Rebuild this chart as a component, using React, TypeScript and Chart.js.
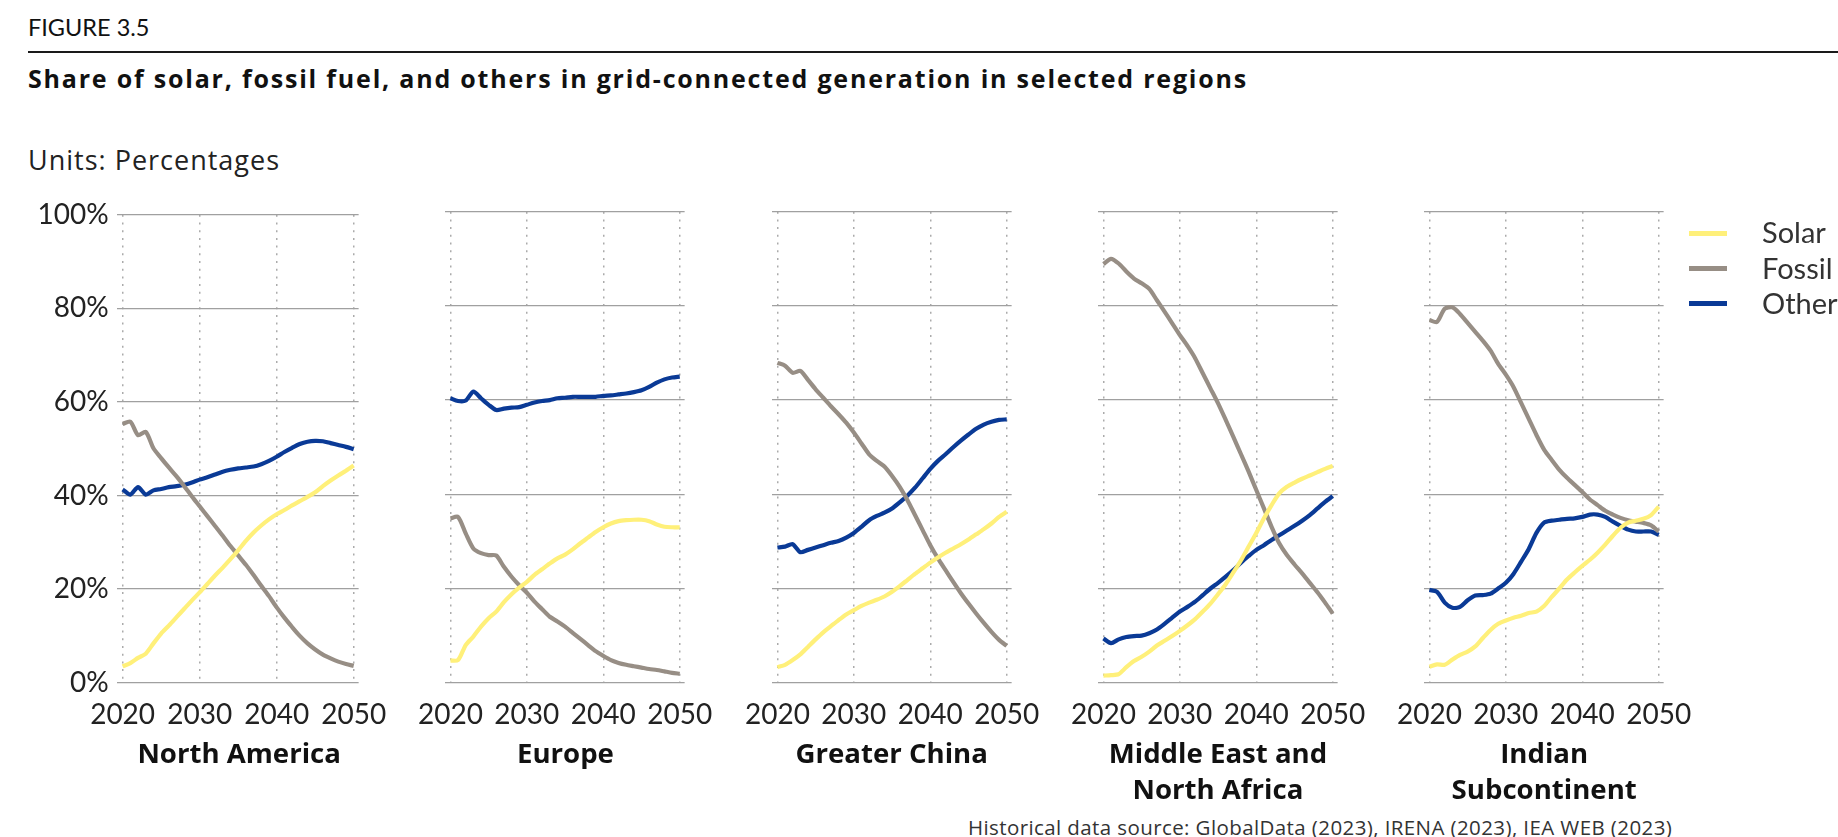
import React, { useEffect, useRef } from "react";
import { Chart, registerables } from "chart.js";

Chart.register(...registerables);

const years = [2020,2021,2022,2023,2024,2025,2026,2027,2028,2029,2030,2031,2032,2033,2034,2035,2036,2037,2038,2039,2040,2041,2042,2043,2044,2045,2046,2047,2048,2049,2050];
const xTicks = [2020, 2030, 2040, 2050];
const yTicks = [0, 20, 40, 60, 80, 100];
const seriesNames = ["Solar", "Fossil fuel", "Others"];
const seriesColors = ["#FFF07A", "#978E85", "#0A3A96"];

const regionNames = ["North America", "Europe", "Greater China", "Middle East and\nNorth Africa", "Indian\nSubcontinent"];

const naSolar = [3.5,4.2,5.3,6.2,8.4,10.5,12.2,14.0,15.8,17.6,19.3,21.1,22.9,24.6,26.4,28.3,30.3,32.1,33.6,34.9,36.0,36.9,37.9,38.8,39.7,40.7,42.0,43.2,44.3,45.3,46.4];
const naFossil = [55.3,55.8,52.9,53.6,50.1,48.0,46.0,44.1,42.0,39.8,37.7,35.6,33.5,31.4,29.2,27.2,25.2,23.0,20.7,18.5,16.1,13.9,11.9,10.0,8.4,7.1,6.0,5.2,4.5,4.0,3.6];
const naOther = [41.3,40.2,41.8,40.2,41.1,41.4,41.8,42.0,42.3,42.8,43.4,43.9,44.5,45.1,45.5,45.8,46.0,46.2,46.7,47.4,48.3,49.3,50.2,51.0,51.5,51.7,51.6,51.2,50.8,50.4,49.9];

const euSolar = [4.7,4.8,8.0,9.8,11.9,13.7,15.1,17.1,18.8,20.2,21.4,22.9,24.1,25.3,26.4,27.2,28.3,29.6,30.8,32.0,33.0,33.8,34.3,34.5,34.6,34.6,34.3,33.6,33.1,33.0,33.0];
const euFossil = [34.9,35.2,31.7,28.5,27.5,27.1,27.0,24.6,22.5,20.7,19.1,17.2,15.6,14.0,13.0,11.9,10.6,9.3,8.0,6.7,5.7,4.8,4.2,3.8,3.5,3.2,2.9,2.7,2.4,2.1,1.9];
const euOther = [60.4,59.8,59.9,61.8,60.4,59.0,57.9,58.2,58.4,58.5,59.0,59.5,59.8,60.0,60.4,60.5,60.7,60.7,60.7,60.7,60.9,61.0,61.2,61.4,61.7,62.1,62.8,63.7,64.4,64.8,65.0];

const cnSolar = [3.3,3.8,4.8,6.0,7.6,9.2,10.7,12.0,13.3,14.5,15.4,16.3,17.0,17.6,18.3,19.3,20.5,21.8,23.1,24.3,25.5,26.6,27.6,28.5,29.4,30.4,31.5,32.6,33.8,35.2,36.3];
const cnFossil = [67.9,67.3,65.8,66.2,64.3,62.3,60.5,58.7,57.0,55.2,53.1,50.8,48.5,47.1,45.9,43.9,41.6,38.8,35.6,32.4,29.2,26.4,23.9,21.4,19.0,16.8,14.7,12.7,10.8,9.1,7.8];
const cnOther = [28.7,28.9,29.4,27.7,28.2,28.7,29.2,29.7,30.1,30.8,31.8,33.1,34.5,35.4,36.1,37.0,38.3,39.7,41.4,43.4,45.4,47.1,48.5,50.0,51.4,52.7,53.9,54.8,55.4,55.8,55.9];

const menaSolar = [1.5,1.6,1.8,3.3,4.6,5.5,6.6,7.9,8.9,9.9,11.0,12.2,13.5,15.1,16.8,18.8,20.9,23.4,26.0,28.9,31.8,34.9,37.7,40.2,41.6,42.5,43.3,44.0,44.7,45.4,46.0];
const menaFossil = [88.9,90.0,89.0,87.3,85.8,84.8,83.6,81.2,78.8,76.3,73.8,71.5,68.9,65.7,62.5,59.3,55.8,52.2,48.5,44.8,40.9,37.0,33.1,29.6,27.1,25.1,23.2,21.2,19.2,17.0,14.7];
const menaOther = [9.4,8.4,9.2,9.7,9.9,10.0,10.5,11.3,12.5,13.8,15.1,16.1,17.2,18.6,20.0,21.2,22.5,23.9,25.5,26.9,28.2,29.2,30.3,31.3,32.3,33.3,34.4,35.6,37.0,38.4,39.6];

const inSolar = [3.4,3.9,3.8,4.9,5.9,6.6,7.7,9.5,11.2,12.5,13.2,13.8,14.2,14.8,15.1,16.3,18.2,20.0,21.9,23.4,24.8,26.1,27.6,29.3,31.2,32.9,34.0,34.4,34.8,35.6,37.4];
const inFossil = [77.0,76.6,79.4,79.7,78.3,76.4,74.5,72.6,70.5,67.7,65.4,62.8,59.4,56.0,52.6,49.5,47.3,45.2,43.5,42.0,40.5,38.9,37.7,36.5,35.7,35.0,34.5,34.2,33.9,33.4,32.1];
const inOther = [19.7,19.3,17.0,15.9,16.1,17.5,18.5,18.6,18.9,20.0,21.2,23.1,25.7,28.4,31.8,34.0,34.4,34.6,34.8,34.9,35.2,35.7,35.7,35.2,34.2,33.3,32.5,32.1,32.1,32.1,31.4];

const regionSeries = [
  [naSolar, naFossil, naOther],
  [euSolar, euFossil, euOther],
  [cnSolar, cnFossil, cnOther],
  [menaSolar, menaFossil, menaOther],
  [inSolar, inFossil, inOther],
];

const FONT = "Lato, 'Noto Sans', sans-serif";
const FONT_WIDE = "'Open Sans', Lato, sans-serif";

// layout constants
const PANEL0_LEFT = 116.7;
const PANEL_STEP = 326.25;
const PLOT_W = 245;
const CANVAS_TOP = 190;
const CANVAS_H = 545;
const PLOT_TOP_PAD = 21.7;
const PLOT_H = 471;
const RIGHT_SPACE = 40;

function Panel({ index }: { index: number }) {
  const ref = useRef<HTMLCanvasElement | null>(null);
  const plotLeft = PANEL0_LEFT + PANEL_STEP * index;
  const canvasLeft = index === 0 ? 0 : Math.floor(plotLeft - 40);
  const yWidth = plotLeft - canvasLeft;
  const canvasW = Math.ceil(yWidth + PLOT_W + RIGHT_SPACE);
  const rightPad = canvasW - yWidth - PLOT_W;
  const xHeight = CANVAS_H - PLOT_TOP_PAD - PLOT_H;

  useEffect(() => {
    const canvas = ref.current;
    if (!canvas) return;
    const series = regionSeries[index];
    const chart = new Chart(canvas, {
      type: "line",
      data: {
        datasets: series.map((vals, k) => ({
          label: seriesNames[k],
          data: years.map((yr, j) => ({ x: yr, y: vals[j] })),
          borderColor: seriesColors[k],
          backgroundColor: seriesColors[k],
          borderWidth: 4.2,
          pointRadius: 0,
          tension: 0.25,
          borderJoinStyle: "round" as const,
          fill: false,
        })),
      },
      options: {
        responsive: false,
        animation: false,
        devicePixelRatio: 1,
        events: [],
        layout: { padding: { top: PLOT_TOP_PAD, right: rightPad, left: 0, bottom: 0 } },
        plugins: { legend: { display: false }, tooltip: { enabled: false } },
        scales: {
          x: {
            type: "linear",
            min: 2020 - 6 / 7.8,
            max: 2050 + 5 / 7.8,
            afterBuildTicks: (scale: any) => {
              scale.ticks = xTicks.map((v) => ({ value: v }));
            },
            afterFit: (scale: any) => {
              scale.height = xHeight;
            },
            ticks: {
              autoSkip: false,
              maxRotation: 0,
              padding: 15,
              color: "#222",
              font: { family: FONT, size: 28 },
              callback: (v: any) => String(v),
            },
            grid: {
              color: "#ababab",
              lineWidth: 1.5,
              drawTicks: false,
            },
            border: { display: false, dash: [2, 5.7] },
          },
          y: {
            min: 0,
            max: 100,
            afterBuildTicks: (scale: any) => {
              scale.ticks = yTicks.map((v) => ({ value: v }));
            },
            afterFit: (scale: any) => {
              scale.width = yWidth;
            },
            ticks: {
              display: index === 0,
              padding: 8,
              color: "#222",
              font: { family: FONT, size: 28 },
              callback: (v: any) => v + "%",
            },
            grid: {
              color: "#a0a0a0",
              lineWidth: 1.3,
              drawTicks: false,
            },
            border: { display: false },
          },
        },
      },
    } as any);
    return () => chart.destroy();
  }, [index]);

  return (
    <canvas
      ref={ref}
      width={canvasW}
      height={CANVAS_H}
      style={{ position: "absolute", left: canvasLeft, top: CANVAS_TOP, width: canvasW, height: CANVAS_H }}
    />
  );
}

export default function App() {
  return (
    <div
      style={{
        position: "fixed",
        left: 0,
        top: 0,
        width: 1838,
        height: 837,
        overflow: "hidden",
        background: "#fff",
        fontFamily: FONT,
      }}
    >
      <div style={{ position: "absolute", left: 28, top: 16, fontSize: 23.5, lineHeight: "23.5px", color: "#111", whiteSpace: "nowrap" }}>
        FIGURE 3.5
      </div>
      <div style={{ position: "absolute", left: 28, top: 51, width: 1810, height: 2, background: "#1a1a1a" }} />
      <div
        style={{
          position: "absolute",
          left: 28,
          top: 66.1,
          fontFamily: FONT_WIDE,
          fontSize: 25,
          lineHeight: "25px",
          letterSpacing: "1.8px",
          fontWeight: 700,
          color: "#111",
          whiteSpace: "nowrap",
        }}
      >
        Share of solar, fossil fuel, and others in grid-connected generation in selected regions
      </div>
      <div
        style={{
          position: "absolute",
          left: 28,
          top: 145.6,
          fontFamily: FONT_WIDE,
          fontSize: 27,
          lineHeight: "27px",
          letterSpacing: "1px",
          color: "#222",
          whiteSpace: "nowrap",
        }}
      >
        Units: Percentages
      </div>

      {regionSeries.map((_, i) => (
        <Panel key={i} index={i} />
      ))}

      {regionNames.map((name, i) => {
        const center = PANEL0_LEFT + PANEL_STEP * i + PLOT_W / 2;
        return (
          <div
            key={name}
            style={{
              position: "absolute",
              left: center - 160,
              width: 320,
              top: 734.4,
              textAlign: "center",
              fontFamily: FONT_WIDE,
              fontSize: 27.6,
              lineHeight: "36px",
              fontWeight: 700,
              color: "#111",
              whiteSpace: "pre",
            }}
          >
            {name}
          </div>
        );
      })}

      {seriesNames.map((name, k) => (
        <React.Fragment key={name}>
          <div
            style={{
              position: "absolute",
              left: 1689,
              top: 230.5 + 35.3 * k,
              width: 38,
              height: 5,
              background: seriesColors[k],
            }}
          />
          <div
            style={{
              position: "absolute",
              left: 1762,
              top: 217.4 + 35.3 * k,
              fontSize: 29,
              lineHeight: "29px",
              color: "#333",
              whiteSpace: "nowrap",
            }}
          >
            {name}
          </div>
        </React.Fragment>
      ))}

      <div
        style={{
          position: "absolute",
          left: 968,
          top: 817,
          fontFamily: FONT_WIDE,
          fontSize: 20.5,
          lineHeight: "20.5px",
          letterSpacing: "0.4px",
          color: "#333",
          whiteSpace: "nowrap",
        }}
      >
        Historical data source: GlobalData (2023), IRENA (2023), IEA WEB (2023)
      </div>
    </div>
  );
}
